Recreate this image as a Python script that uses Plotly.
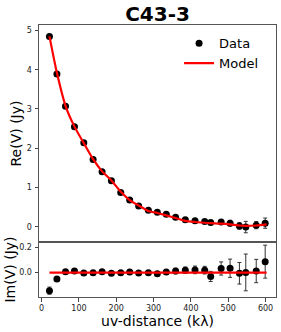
import plotly.graph_objects as go

uv = [21, 41, 64, 88, 113, 138, 162, 187, 212, 236, 260, 286, 310, 334, 359, 385,
      411, 437, 453, 481, 505, 530, 547, 575, 599]
re_data = [4.85, 3.89, 3.07, 2.55, 2.14, 1.71, 1.40, 1.17, 0.87, 0.68, 0.53, 0.42,
           0.37, 0.32, 0.24, 0.18, 0.15, 0.13, 0.11, 0.12, 0.09, 0.02, -0.01, 0.04, 0.09]
im_data = [-0.142, -0.05, 0.008, 0.013, -0.002, -0.001, 0.008, -0.004, 0.0, 0.005,
           -0.003, 0.0, -0.008, 0.005, 0.013, 0.02, 0.022, 0.02, -0.03, 0.033, 0.035,
           -0.005, 0.002, 0.013, 0.087]
err = [0.028, 0.012, 0.01, 0.01, 0.01, 0.01, 0.01, 0.01, 0.01, 0.01, 0.01, 0.01,
       0.012, 0.015, 0.022, 0.025, 0.03, 0.03, 0.04, 0.052, 0.072, 0.085, 0.145,
       0.092, 0.13]
model_uv = [21, 41, 64, 88, 113, 138, 162, 187, 212, 236, 260, 286, 310, 334, 359,
            385, 411, 437, 453, 481, 505, 530, 547, 575, 603]
re_model = [4.85, 3.92, 3.08, 2.55, 2.13, 1.72, 1.41, 1.18, 0.89, 0.68, 0.54, 0.40,
            0.35, 0.29, 0.22, 0.15, 0.12, 0.10, 0.09, 0.08, 0.06, 0.03, 0.02, 0.03, 0.06]
im_model = [0.0] * len(model_uv)

font = "DejaVu Sans"
fig = go.Figure()
ebar = dict(type="data", array=err, visible=True, color="#333", thickness=1, width=2)
fig.add_trace(go.Scatter(x=uv, y=re_data, mode="markers", name="Data",
                         marker=dict(color="black", size=7), error_y=ebar,
                         xaxis="x", yaxis="y"))
fig.add_trace(go.Scatter(x=model_uv, y=re_model, mode="lines", name="Model",
                         line=dict(color="red", width=2.2, shape="spline", smoothing=0.6),
                         xaxis="x", yaxis="y"))
fig.add_trace(go.Scatter(x=uv, y=im_data, mode="markers", showlegend=False,
                         marker=dict(color="black", size=7), error_y=ebar,
                         xaxis="x2", yaxis="y2"))
fig.add_trace(go.Scatter(x=model_uv, y=im_model, mode="lines", showlegend=False,
                         line=dict(color="red", width=2.2),
                         xaxis="x2", yaxis="y2"))

axcommon = dict(showline=True, mirror=True, linecolor="#555", linewidth=1,
                showgrid=False, zeroline=False, ticklen=3.5, automargin=False,
                tickwidth=1, tickcolor="#444",
                tickfont=dict(size=8, family=font, color="#222"))
split = 55 / 272
fig.update_layout(
    width=281, height=332,
    margin=dict(l=39, r=5, t=25, b=35, autoexpand=False),
    plot_bgcolor="white", paper_bgcolor="white",
    title=dict(text="<b>C43-3</b>", xref="paper", x=0.5, xanchor="center",
               yref="container", y=1 - 6.5 / 332, yanchor="top", pad=dict(t=0, b=0),
               automargin=False,
               font=dict(size=20, family=font, color="black")),
    xaxis=dict(domain=[0, 1], anchor="y", range=[-7, 628], showticklabels=False,
               ticks="", **axcommon),
    yaxis=dict(domain=[split, 1], anchor="x", range=[-0.39, 5.14],
               tickvals=[0, 1, 2, 3, 4, 5], ticks="outside", ticklabelstandoff=1,
               title=dict(text="Re(V) (Jy)", font=dict(size=14, family=font, color="black"),
                          standoff=1),
               **axcommon),
    xaxis2=dict(domain=[0, 1], anchor="y2", range=[-7, 628], ticks="outside",
                tickvals=[0, 100, 200, 300, 400, 500, 600],
                title=dict(text="uv-distance (kλ)", font=dict(size=14, family=font, color="black"),
                           standoff=0),
                **axcommon),
    yaxis2=dict(domain=[0, split], anchor="x2", range=[-0.192, 0.242], ticks="outside",
                tickvals=[0.0, 0.2], ticktext=["0.0", "0.2"], ticklabelstandoff=1,
                title=dict(text="Im(V) (Jy)", font=dict(size=14, family=font, color="black"),
                           standoff=0),
                **axcommon),
    legend=dict(x=0.591, xanchor="left", y=0.988, yanchor="top",
                font=dict(size=13, family=font, color="black"),
                bgcolor="rgba(255,255,255,0)"),
    showlegend=True,
)
fig.write_html("out.html", config={"displayModeBar": False},
               post_script="document.body.style.margin='0px';")
